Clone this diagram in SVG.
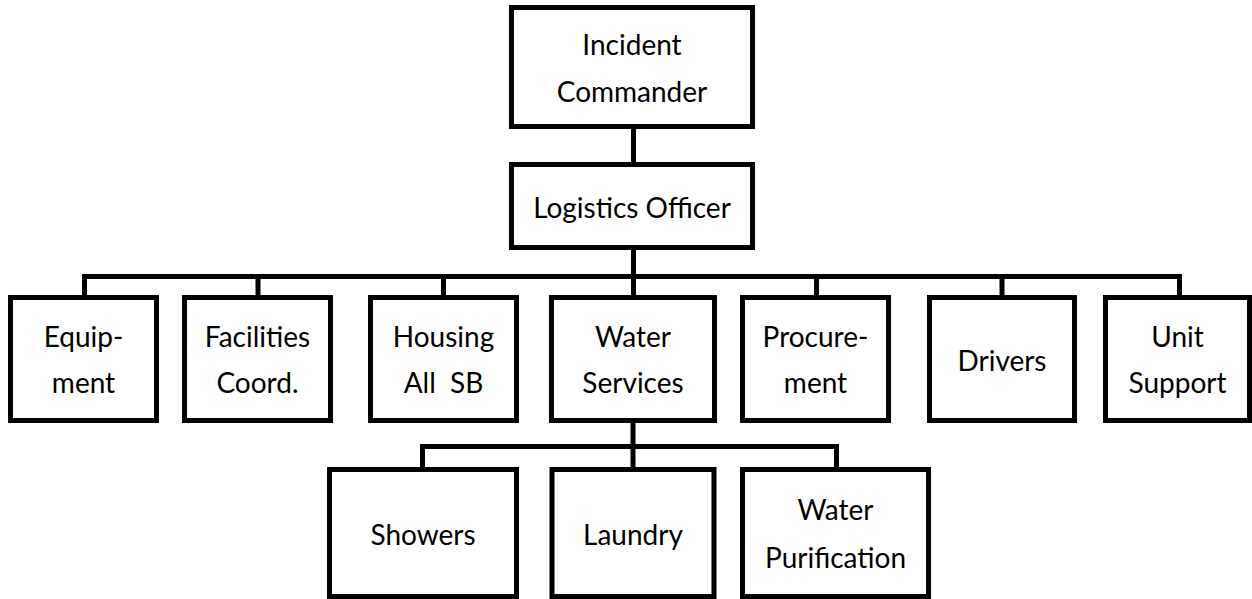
<svg xmlns="http://www.w3.org/2000/svg" width="1252" height="599" viewBox="0 0 1252 599">
<style>
.box{fill:#fff;stroke:#000;stroke-width:5}
.ln{fill:none;stroke:#000;stroke-width:5;stroke-linejoin:miter}
text{font-family:Lato,"Open Sans","Liberation Sans",sans-serif;font-size:28px;fill:#000;text-anchor:middle}
</style>
<rect width="1252" height="599" fill="#fff"/>
<g id="connectors">
<path class="ln" d="M633.5,129 V164"/>
<path class="ln" d="M633.5,250 V277"/>
<path class="ln" d="M84.5,297 V276.5 H1179.5 V297"/>
<path class="ln" d="M258,276.5 V297"/>
<path class="ln" d="M443.5,276.5 V297"/>
<path class="ln" d="M633.5,276.5 V297"/>
<path class="ln" d="M816.5,276.5 V297"/>
<path class="ln" d="M1002,276.5 V297"/>
<path class="ln" d="M633,421 V469"/>
<path class="ln" d="M422.5,469 V446.5 H836.5 V469"/>
</g>
<g id="incident-commander"><rect class="box" x="511.5" y="7.5" width="241" height="119"/><text x="632" y="55">Incident</text><text x="632" y="101.5">Commander</text></g>
<g id="logistics-officer"><rect class="box" x="511.5" y="164.5" width="241" height="83"/><text x="632" y="218">Logistics Officer</text></g>
<g id="equipment"><rect class="box" x="10.5" y="297.5" width="146" height="123"/><text x="83.5" y="346.5">Equip-</text><text x="83.5" y="393">ment</text></g>
<g id="facilities"><rect class="box" x="184.5" y="297.5" width="146" height="123"/><text x="257.5" y="346.5">Facilities</text><text x="257.5" y="393">Coord.</text></g>
<g id="housing"><rect class="box" x="370.5" y="297.5" width="146" height="123"/><text x="443.5" y="346.5">Housing</text><text x="443.5" y="393" xml:space="preserve">All  SB</text></g>
<g id="water-services"><rect class="box" x="551.5" y="297.5" width="163" height="123"/><text x="633" y="346.5">Water</text><text x="633" y="393">Services</text></g>
<g id="procurement"><rect class="box" x="742.5" y="297.5" width="146" height="123"/><text x="815.5" y="346.5">Procure-</text><text x="815.5" y="393">ment</text></g>
<g id="drivers"><rect class="box" x="929.5" y="297.5" width="145" height="123"/><text x="1002" y="370.5">Drivers</text></g>
<g id="unit-support"><rect class="box" x="1105.5" y="297.5" width="144" height="123"/><text x="1177.5" y="346.5">Unit</text><text x="1177.5" y="393">Support</text></g>
<g id="showers"><rect class="box" x="329.5" y="469.5" width="187" height="127"/><text x="423" y="545">Showers</text></g>
<g id="laundry"><rect class="box" x="552" y="469.5" width="162" height="127"/><text x="633" y="545">Laundry</text></g>
<g id="water-purification"><rect class="box" x="742.5" y="469.5" width="186" height="127"/><text x="835.5" y="520">Water</text><text x="835.5" y="568">Purification</text></g>
</svg>
